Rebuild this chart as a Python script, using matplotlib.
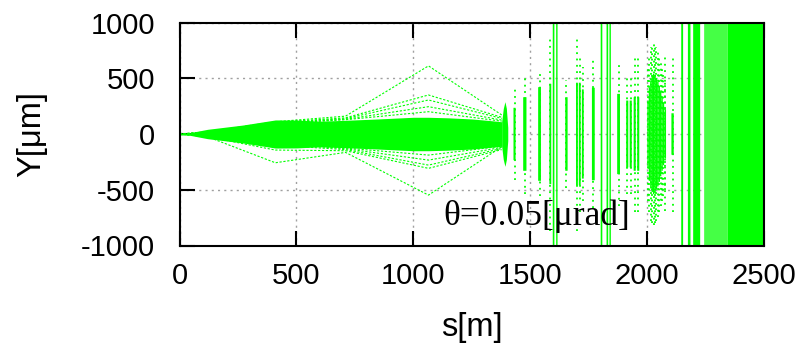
import matplotlib
matplotlib.use('Agg')
import matplotlib.pyplot as plt
import numpy as np

GREEN = '#00ff00'

# ---- data ----
x_ticks = [0, 500, 1000, 1500, 2000, 2500]
y_ticks = [-1000, -500, 0, 500, 1000]

# dense core of the bunch (half-height, um) before break-up
core_s = [0, 40, 120, 270, 410, 500, 600, 700, 850, 1000, 1065, 1150, 1250, 1330, 1378]
core_h = [8, 10, 42, 80, 126, 125, 115, 122, 135, 150, 150, 145, 135, 120, 110]

# individual outer trajectories, values at these s knots
traj_s = [0, 120, 410, 710, 1065, 1378]
traj_y = [
    [0, 20, 110, 160, 611, 171],
    [0, 16, 105, 145, 350, 150],
    [0, 15, 100, 138, 305, 140],
    [0, 12, 95, 132, 245, 125],
    [0, 10, 90, 128, 200, 115],
    [0, -25, -258, -165, -548, -114],
    [0, -24, -144, -150, -308, -140],
    [0, -20, -100, -140, -279, -130],
    [0, -15, -84, -132, -234, -120],
    [0, -12, -80, -126, -189, -110],
]

# small lens where the core breaks up
lens_s = [1378, 1385, 1392, 1398, 1404]
lens_h = [110, 230, 290, 230, 60]

# isolated stripes: centre s, dense half-height, sparse half-height, width (m)
stripe_s = [1433, 1477, 1540, 1586, 1655, 1700, 1712, 1725, 1770,
            1878, 1915, 1930, 1947, 1962, 2077, 2109]
stripe_core = [235, 330, 420, 450, 330, 460, 460, 400, 415,
               360, 300, 300, 330, 330, 200, 186]
stripe_sparse = [410, 540, 560, 870, 480, 870, 700, 600, 660,
                 650, 540, 540, 700, 700, 695, 700]
stripe_w = [9, 14, 12, 8, 10, 8, 8, 8, 12, 12, 9, 9, 9, 9, 6, 10]

# stripes that fill the whole height
full_s = [1600, 1614, 1805, 1830, 1842, 2150, 2180]
full_w = [7, 6, 7, 7, 6, 8, 11]

# cloud after s = 2000
cloud_s = [2004, 2010, 2016, 2022, 2028, 2034, 2040, 2046, 2052, 2058, 2064, 2070, 2078]
cloud_core = [300, 420, 480, 520, 540, 530, 500, 470, 430, 380, 330, 280, 220]
cloud_sparse = [600, 700, 780, 800, 820, 800, 780, 740, 700, 650, 600, 560, 500]

# fully filled regions at the end
band_start = [2197, 2244, 2345]
band_end = [2227, 2345, 2500]
band_color = [GREEN, '#45ff45', GREEN]

label_text = 'θ=0.05[μrad]'

# ---- figure ----
fig = plt.figure(figsize=(8.05, 3.5), dpi=100)
ax = fig.add_axes([179.5 / 805, 1 - 245.5 / 350, (764 - 179.5) / 805, (245.5 - 22.5) / 350])

ax.set_xlim(0, 2500)
ax.set_ylim(-1000, 1000)

# core
cs = np.array(core_s, float)
ch = np.array(core_h, float)
ax.fill_between(cs, -ch, ch, color=GREEN, linewidth=0, zorder=2)

# trajectories
for ty in traj_y:
    ax.plot(traj_s, ty, color=GREEN, linewidth=0.8, linestyle=(0, (2, 1.5)), zorder=2)

# lens
ls = np.array(lens_s, float)
lh = np.array(lens_h, float)
ax.fill_between(ls, -lh, lh, color=GREEN, linewidth=0, zorder=2)

# stripes
ss = np.array(stripe_s, float)
sc = np.array(stripe_core, float)
sp = np.array(stripe_sparse, float)
ax.vlines(ss, -sp, sp, colors=GREEN, linewidth=1.3, linestyles=(0, (1, 2.5)), zorder=2)
ax.bar(ss, 2 * sc, bottom=-sc, width=stripe_w, color=GREEN, edgecolor='none',
       linewidth=0, zorder=2, snap=False)

# full-height stripes
ax.bar(full_s, 2000, bottom=-1000, width=full_w, color=GREEN, edgecolor='none',
       linewidth=0, zorder=2, snap=False)

# cloud
cls = np.array(cloud_s, float)
ccore = np.array(cloud_core, float)
csp = np.array(cloud_sparse, float)
ax.vlines(cls, -csp, csp, colors=GREEN, linewidth=1.3, linestyles=(0, (1, 2)), zorder=2)
ax.bar(cls, 2 * ccore, bottom=-ccore, width=6, color=GREEN, edgecolor='none',
       linewidth=0, zorder=2, snap=False)

# bands
for b0, b1, bc in zip(band_start, band_end, band_color):
    ax.bar((b0 + b1) / 2, 2000, bottom=-1000, width=b1 - b0, color=bc, edgecolor='none',
           linewidth=0, zorder=2, snap=False)

# text
ax.text(1127, -818, label_text, fontsize=25.5, family=['Liberation Serif', 'DejaVu Serif'],
        ha='left', va='baseline', color='black', zorder=5)

# axes styling
ax.set_xticks(x_ticks)
ax.set_yticks(y_ticks)
ax.set_xticklabels([str(v) for v in x_ticks])
ax.set_yticklabels([str(v) for v in y_ticks])
ax.tick_params(direction='in', length=11, width=1.5, top=True, right=False, labelsize=21)
ax.tick_params(axis='x', pad=12)
ax.tick_params(axis='y', pad=17.5)
for lab in ax.get_xticklabels() + ax.get_yticklabels():
    lab.set_family(['Liberation Sans', 'DejaVu Sans'])
for sp_ in ax.spines.values():
    sp_.set_linewidth(1.5)

ax.grid(True, color='#a0a0a0', linestyle=(0, (1.5, 3)), linewidth=1.0)
ax.set_axisbelow(True)

ax.set_xlabel('s[m]', fontsize=23.5, family=['Liberation Sans', 'DejaVu Sans'])
ax.set_ylabel('Y[μm]', fontsize=23.5, family=['Liberation Sans', 'DejaVu Sans'])
ax.xaxis.set_label_coords(0.5, -0.298)
ax.yaxis.set_label_coords(-0.227, 0.5)

fig.savefig('out.png', dpi=100)
